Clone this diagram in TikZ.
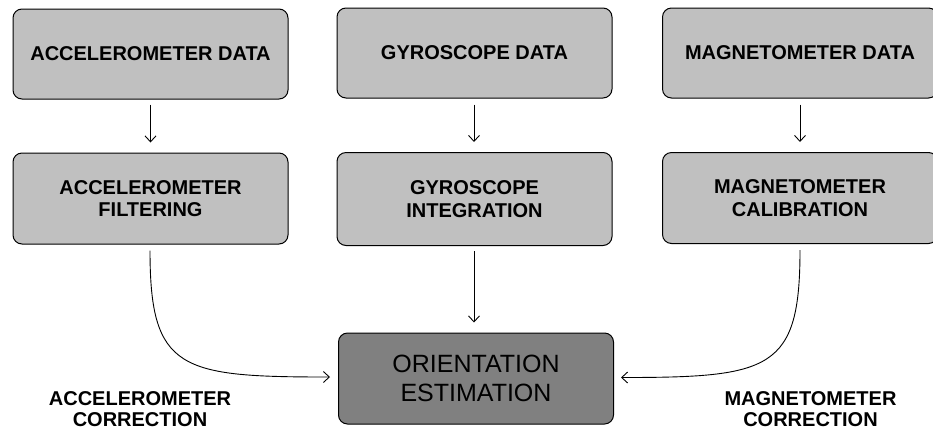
\documentclass[tikz,border=0pt]{standalone}
\usepackage{fontspec}
\setmainfont{Liberation Sans}
\usetikzlibrary{arrows.meta}
\definecolor{boxlight}{HTML}{C0C0C0}
\definecolor{boxdark}{HTML}{808080}
\begin{document}
\begin{tikzpicture}[x=1pt,y=-1pt,
  stagebox/.style={draw=black,line width=1pt,rounded corners=9pt,fill=boxlight,
    minimum width=275pt,minimum height=90pt,align=center,inner sep=0pt,
    font=\fontsize{20}{22.5}\selectfont\bfseries},
  resultbox/.style={stagebox,fill=boxdark,font=\fontsize{25}{29}\selectfont},
  sidelabel/.style={align=center,inner sep=0pt,font=\fontsize{20}{20.5}\selectfont\bfseries},
  flow/.style={line width=0.9pt,-{Straight Barb[length=6pt,width=11pt,line width=0.9pt]}}]
\useasboundingbox (0,0) rectangle (933,432);
\fill[white] (0,0) rectangle (933,432);
\node[stagebox] (ad) at (150.5,54) {ACCELEROMETER DATA};
\node[stagebox] (gd) at (474.5,53) {GYROSCOPE DATA};
\node[stagebox] (md) at (800,53) {MAGNETOMETER DATA};
\node[stagebox,minimum height=91pt] (af) at (150.5,198.5) {ACCELEROMETER\\FILTERING};
\node[stagebox,minimum height=93pt] (gi) at (474.5,199) {GYROSCOPE\\INTEGRATION};
\node[stagebox,minimum height=91pt] (mc) at (800,198) {MAGNETOMETER\\CALIBRATION};
\node[resultbox,minimum height=91pt] (oe) at (476,378.5) {ORIENTATION\\ESTIMATION};
\node[sidelabel] (ac) at (140,409) {ACCELEROMETER\\CORRECTION};
\node[sidelabel] (mcl) at (810.5,409) {MAGNETOMETER\\CORRECTION};
\draw[flow] ([yshift=-5pt]ad.south) -- ([yshift=10pt]af.north);
\draw[flow] ([xshift=-0.5pt,yshift=-6pt]gd.south) -- ([xshift=-0.5pt,yshift=10pt]gi.north);
\draw[flow] ([yshift=-6pt]md.south) -- ([yshift=10pt]mc.north);
\draw[flow] ([xshift=-0.5pt,yshift=-5pt]gi.south) -- ([xshift=-2pt,yshift=10pt]oe.north);
\draw[flow] ([xshift=-0.5pt,yshift=-6pt]af.south) .. controls +(0,120) and +(-150,0) .. ([xshift=-8pt,yshift=1.5pt]oe.west);
\draw[flow] ([yshift=-6pt]mc.south) .. controls +(0,120) and +(150,0) .. ([xshift=7pt,yshift=1pt]oe.east);
\end{tikzpicture}
\end{document}
